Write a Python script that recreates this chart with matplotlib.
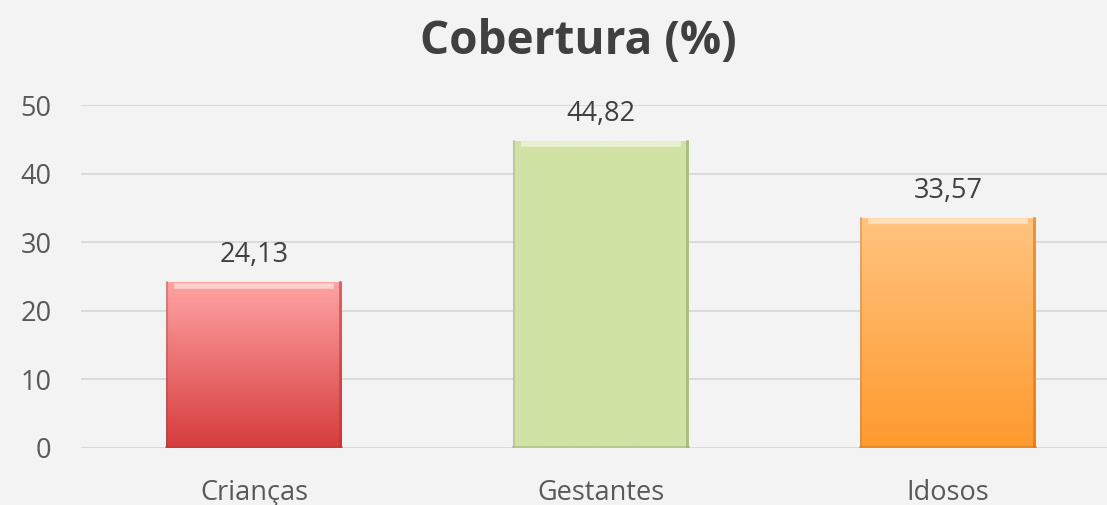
import matplotlib.pyplot as plt
import numpy as np
from matplotlib.colors import LinearSegmentedColormap

categories = ['Crianças', 'Gestantes', 'Idosos']
values = [24.13, 44.82, 33.57]
labels = ['24,13', '44,82', '33,57']
# top colour, bottom colour for each bar
grad = [('#ffa3a3', '#d63c3c'), ('#d1e2a5', '#d1e2a5'), ('#ffc47f', '#ff9a2e')]
edges = ['#b23a3a', '#93a36c', '#c97422']

plt.rcParams['font.family'] = ['Open Sans', 'DejaVu Sans']

fig = plt.figure(figsize=(11.07, 5.05), dpi=100, facecolor='#f3f3f3')
ax = fig.add_axes([80.5 / 1107, 57 / 505, 1 - 80.5 / 1107, (448 - 105) / 505 * 1.0])
ax.set_facecolor('#f3f3f3')

ax.set_ylim(0, 50)
ax.set_yticks(range(0, 51, 10))
ax.yaxis.grid(True, color='#d9d9d9', lw=1.3)
ax.set_axisbelow(True)
for s in ax.spines.values():
    s.set_visible(False)
ax.tick_params(length=0, labelsize=19.5, colors='#595959')
ax.tick_params(axis='y', pad=21)
ax.tick_params(axis='x', pad=22.5)

x = np.arange(len(categories))
w = 0.505
bars = ax.bar(x, values, width=w, color='none', zorder=2)
for b, (top, bot), ec, lab in zip(bars, grad, edges, labels):
    x0, y0, bw, h = b.get_x(), b.get_y(), b.get_width(), b.get_height()
    cmap = LinearSegmentedColormap.from_list('g', [bot, top])
    img = ax.imshow(np.linspace(0, 1, 256).reshape(-1, 1), cmap=cmap, aspect='auto',
                    extent=[x0, x0 + bw, y0, y0 + h], origin='lower', zorder=2)
    img.set_clip_path(b)
    # bevel highlights
    ax.plot([x0 + 0.03, x0 + bw - 0.03], [h - 0.45, h - 0.45], color='white', alpha=0.5, lw=4, zorder=3)
    ax.plot([x0 + bw - 0.004, x0 + bw - 0.004], [0, h], color=ec, alpha=0.6, lw=2, zorder=3)
    ax.plot([x0 + 0.003, x0 + 0.003], [0, h], color=ec, alpha=0.35, lw=1.5, zorder=3)
    ax.plot([x0, x0 + bw], [0.1, 0.1], color=ec, alpha=0.4, lw=1.5, zorder=3)
    ax.text(b.get_x() + bw / 2, h + 1.9, lab, ha='center', va='bottom',
            fontsize=19.5, color='#404040')

ax.set_xticks(x)
ax.set_xticklabels(categories)
ax.set_xlim(-0.5, (1107 - 80.5) / 347 - 0.5)

fig.text(578 / 1107, 1 - 41 / 505, 'Cobertura (%)', ha='center', va='center',
         fontsize=33, fontweight='bold', color='#404040')

fig.savefig('out.png', dpi=100, facecolor=fig.get_facecolor())
